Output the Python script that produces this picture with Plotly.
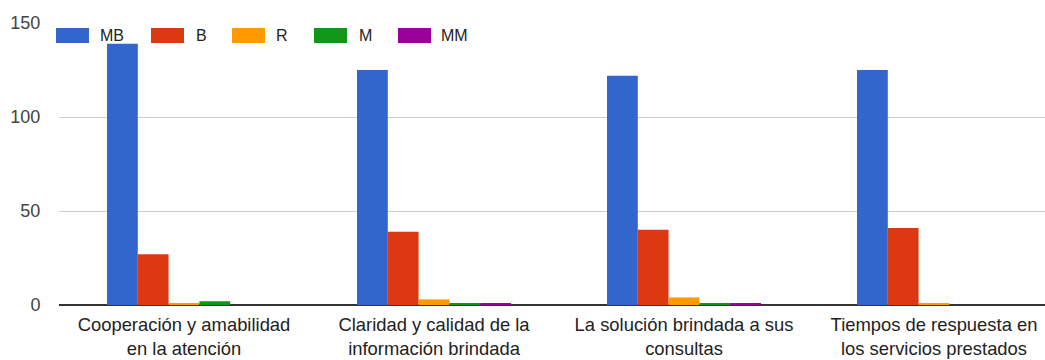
import plotly.graph_objects as go

# Survey results per aspect of the service
categories = [
    "Cooperación y amabilidad<br>en la atención",
    "Claridad y calidad de la<br>información brindada",
    "La solución brindada a sus<br>consultas",
    "Tiempos de respuesta en<br>los servicios prestados",
]
series_names = ["MB", "B", "R", "M", "MM"]
mb = [139, 125, 122, 125]
b = [27, 39, 40, 41]
r = [1, 3, 4, 1]
m = [2, 1, 1, 0]
mm = [0, 1, 1, 0]
series_values = [mb, b, r, m, mm]
colors = ["#3366cc", "#dc3912", "#ff9900", "#109618", "#990099"]
y_ticks = [0, 50, 100, 150]

W, H = 1045, 360
ML, MR, MT, MB_ = 59, 0, 23, 55
PW, PH = W - ML - MR, H - MT - MB_
FONT = "Liberation Sans, Arial, sans-serif"

fig = go.Figure()
for name, vals, col in zip(series_names, series_values, colors):
    fig.add_trace(go.Bar(
        name=name, x=categories, y=vals,
        marker=dict(color=col, line=dict(width=0)),
        showlegend=False,
    ))


def px_x(px):
    return (px - ML) / PW


def px_y(py):
    return (H - MB_ - py) / PH


# Legend row drawn across the top of the plot area
swatch_left = [56, 151, 232, 314, 398]
text_left = [98, 194, 274, 357, 439]
shapes = []
annotations = []
for name, col, sx, tx in zip(series_names, colors, swatch_left, text_left):
    shapes.append(dict(
        type="rect", xref="paper", yref="paper", layer="above",
        x0=px_x(sx), x1=px_x(sx + 33), y0=px_y(43), y1=px_y(28),
        fillcolor=col, line=dict(width=0),
    ))
    annotations.append(dict(
        xref="paper", yref="paper", x=px_x(tx), y=px_y(35.5),
        xanchor="left", yanchor="middle", showarrow=False,
        text=name, font=dict(family=FONT, size=16, color="#222222"),
    ))

fig.update_layout(
    width=W, height=H,
    margin=dict(l=ML, r=MR, t=MT, b=MB_, pad=0, autoexpand=False),
    paper_bgcolor="white", plot_bgcolor="white",
    barmode="group", bargap=0.384, bargroupgap=0.0,
    shapes=shapes, annotations=annotations,
    font=dict(family=FONT),
    xaxis=dict(
        range=[-0.5, 3.444], showgrid=False, zeroline=False,
        showline=False, ticks="outside", ticklen=3, automargin=False,
        tickcolor="rgba(0,0,0,0)",
        tickfont=dict(family=FONT, size=18.4, color="#222222"),
    ),
    yaxis=dict(
        range=[0, 150], tickvals=y_ticks, showgrid=True,
        gridcolor="#cccccc", gridwidth=1, automargin=False,
        zeroline=True, zerolinecolor="#333333", zerolinewidth=2,
        showline=False, ticks="outside", ticklen=14,
        tickcolor="rgba(0,0,0,0)",
        tickfont=dict(family=FONT, size=18, color="#444444"),
    ),
)

fig.write_html("out.html")
